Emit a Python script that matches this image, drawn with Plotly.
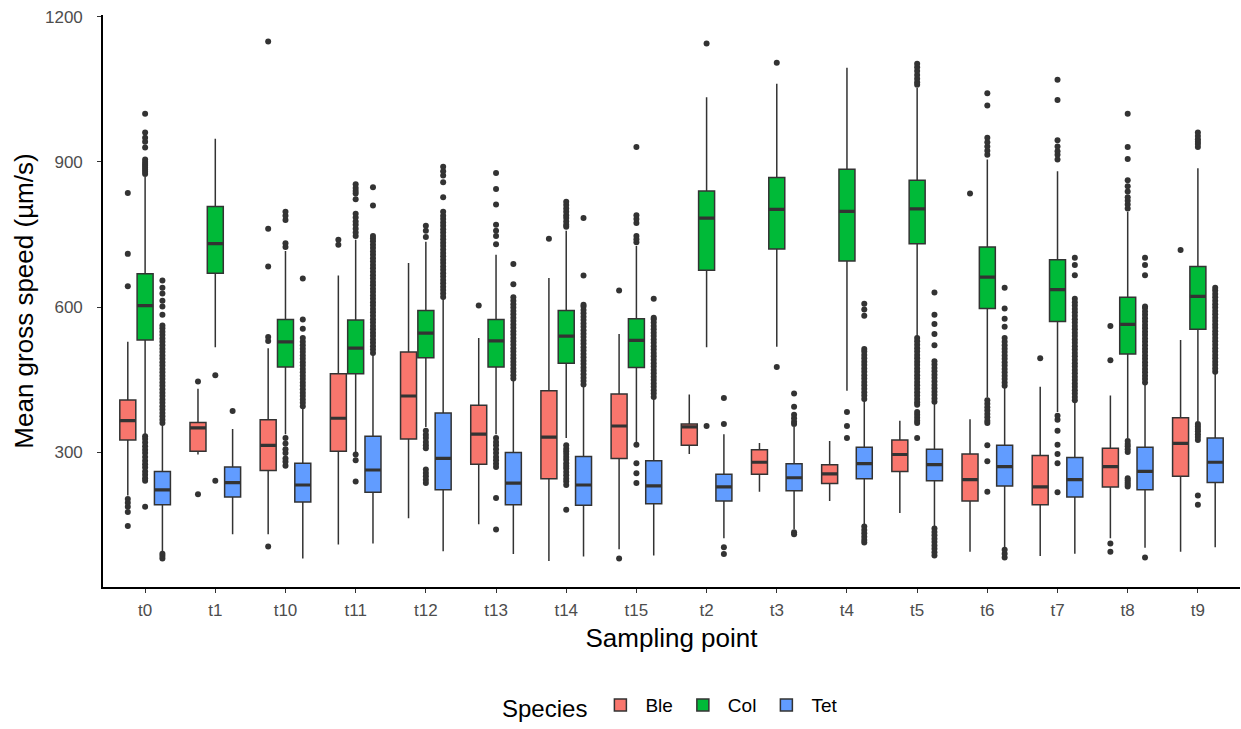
import plotly.graph_objects as go

CATEGORIES = ["t0", "t1", "t10", "t11", "t12", "t13", "t14", "t15",
              "t2", "t3", "t4", "t5", "t6", "t7", "t8", "t9"]
SPECIES = ["Ble", "Col", "Tet"]
COLORS = ["#F8766D", "#00BA38", "#619CFF"]

# ---- Ble ----
BLE_Q1 = [325, 302, 262, 302, 327, 275, 245, 287, 314, 254, 235, 260, 199, 191, 228, 250]
BLE_MED = [365, 350, 314, 370, 416, 337, 331, 354, 352, 279, 255, 295, 243, 228, 270, 318]
BLE_Q3 = [408, 361, 367, 462, 507, 397, 427, 420, 358, 305, 274, 325, 296, 293, 308, 371]
BLE_LO = [210, 295, 130, 109, 163, 151, 75, 99, 296, 218, 199, 174, 94, 85, 122, 94]
BLE_HI = [528, 431, 515, 665, 691, 536, 660, 544, 419, 319, 323, 365, 368, 435, 417, 532]
BLE_OUT = [
    [836, 710, 643, 203, 195, 187, 176, 147],
    [446, 213],
    [1149, 762, 684, 538, 530, 105],
    [739, 729],
    [],
    [603],
    [741],
    [634, 80],
    [],
    [],
    [],
    [],
    [835],
    [494],
    [561, 490, 111, 94],
    [718],
]

# ---- Col ----
COL_Q1 = [532, 670, 476, 462, 495, 476, 484, 475, 676, 720, 695, 731, 597, 570, 503, 554]
COL_MED = [603, 731, 528, 515, 546, 530, 540, 531, 784, 802, 798, 803, 662, 636, 564, 622]
COL_Q3 = [669, 808, 574, 573, 593, 574, 593, 576, 840, 868, 885, 862, 724, 698, 620, 684]
COL_LO = [337, 517, 337, 298, 352, 337, 329, 321, 517, 518, 427, 540, 413, 383, 329, 364]
COL_HI = [869, 948, 716, 739, 735, 708, 758, 726, 1034, 1062, 1095, 1053, 905, 881, 797, 887]
COL_OUT = [
    [875, 880, 884, 888, 892, 896, 900, 905, 930, 942, 950, 961, 1000,
     333, 327, 320, 312, 305, 298, 290, 282, 275, 268, 260, 253, 246, 241, 187],
    [459, 241],
    [797, 789, 780, 732, 724, 329, 318, 306, 298, 287, 280, 272],
    [854, 846, 840, 835, 823, 793, 785, 777, 770, 762, 754, 747, 295, 283, 239],
    [768, 758, 745, 344, 336, 329, 321, 314, 308, 264, 257, 250, 243, 236],
    [877, 844, 812, 770, 758, 747, 730, 329, 321, 314, 306, 298, 290, 283, 276, 269, 205, 140],
    [818, 811, 804, 797, 790, 784, 777, 770, 766,
     314, 307, 302, 296, 290, 284, 277, 271, 266, 259, 252, 245, 239, 232, 181],
    [931, 790, 782, 774, 747, 740, 734, 315, 277, 256, 236],
    [1145, 354],
    [1105, 476],
    [383, 354, 329],
    [1103, 1096, 1088, 1080, 1072, 1065, 1060,
     536, 529, 522, 515, 508, 501, 494, 487, 480, 473, 466, 459, 452, 445, 438, 431, 424,
     417, 410, 403, 398, 383, 377, 371, 365, 360, 329],
    [1042, 1017, 950, 941, 932, 923, 915, 407, 400, 393, 386, 379, 372, 365, 360, 314, 281, 218],
    [1070, 1028, 945, 932, 922, 915, 905, 375, 367, 344, 315, 296, 277, 217],
    [1000, 931, 906, 862, 850, 839, 827, 820, 812, 804, 323, 317, 312, 306, 300, 246, 242, 237, 233, 229],
    [961, 954, 947, 942, 937, 931, 358, 353, 348, 343, 337, 331, 325, 210, 191],
]

# ---- Tet ----
TET_Q1 = [191, 207, 197, 217, 222, 191, 190, 193, 199, 220, 245, 241, 230, 207, 222, 237]
TET_MED = [222, 237, 232, 263, 287, 236, 232, 230, 228, 247, 276, 274, 270, 243, 260, 279]
TET_Q3 = [260, 269, 277, 333, 381, 299, 291, 282, 254, 276, 310, 306, 314, 289, 310, 329]
TET_LO = [95, 130, 80, 111, 95, 89, 84, 86, 122, 141, 149, 145, 103, 90, 102, 103]
TET_HI = [356, 348, 391, 502, 617, 448, 436, 410, 337, 352, 406, 400, 434, 404, 440, 463]
TET_OUT = [
    [360, 367, 374, 381, 388, 395, 402, 409, 416, 423, 430, 437, 444, 451, 458, 465, 472,
     479, 486, 493, 500, 507, 514, 521, 528, 535, 542, 549, 556, 562, 584, 601, 613, 628,
     640, 655, 90, 85, 80],
    [385],
    [395, 402, 409, 416, 423, 430, 437, 444, 451, 458, 465, 472, 479, 486, 493, 500, 507,
     514, 521, 528, 536, 555, 574, 659],
    [505, 512, 519, 526, 533, 540, 547, 554, 561, 568, 575, 582, 589, 596, 603, 610, 617,
     624, 631, 638, 645, 652, 659, 666, 673, 680, 687, 694, 701, 708, 715, 722, 729, 736,
     742, 747, 810, 848],
    [621, 628, 635, 642, 649, 656, 663, 670, 677, 684, 691, 698, 705, 712, 719, 726, 733,
     740, 747, 754, 761, 768, 775, 782, 789, 797, 827, 858, 872, 881, 890],
    [452, 459, 466, 473, 480, 487, 494, 501, 508, 515, 522, 529, 536, 543, 550, 557, 564,
     571, 578, 585, 592, 599, 606, 613, 620, 647, 689],
    [440, 447, 454, 461, 468, 475, 482, 489, 496, 503, 510, 517, 524, 531, 538, 545, 552,
     559, 566, 573, 580, 587, 594, 601, 605, 665, 784],
    [414, 421, 428, 435, 442, 449, 456, 463, 470, 477, 484, 491, 498, 505, 512, 519, 526,
     533, 540, 547, 554, 561, 568, 575, 578, 617],
    [412, 358, 103, 89],
    [421, 394, 377, 370, 363, 358, 134, 130],
    [410, 417, 424, 431, 438, 445, 452, 459, 466, 473, 480, 487, 494, 501, 508, 513, 582,
     595, 607, 146, 139, 132, 125, 118, 113],
    [404, 411, 418, 425, 432, 439, 446, 453, 460, 467, 474, 481, 488, 521, 544, 565, 584,
     630, 142, 135, 128, 121, 114, 107, 100, 93, 86],
    [437, 444, 451, 458, 465, 472, 479, 486, 493, 500, 507, 514, 521, 528, 536, 559, 576,
     597, 640, 98, 90, 82],
    [407, 414, 421, 428, 435, 442, 449, 456, 463, 470, 477, 484, 491, 498, 505, 512, 519,
     526, 533, 540, 547, 554, 561, 568, 575, 582, 589, 596, 603, 610, 617, 666, 687, 702],
    [444, 451, 458, 465, 472, 479, 486, 493, 500, 507, 514, 521, 528, 535, 542, 549, 556,
     563, 570, 577, 584, 591, 598, 601, 666, 687, 702, 82],
    [466, 473, 480, 487, 494, 501, 508, 515, 522, 529, 536, 543, 550, 557, 564, 571, 578,
     585, 592, 599, 606, 613, 620, 627, 634, 640],
]

STATS = [
    (BLE_Q1, BLE_MED, BLE_Q3, BLE_LO, BLE_HI, BLE_OUT),
    (COL_Q1, COL_MED, COL_Q3, COL_LO, COL_HI, COL_OUT),
    (TET_Q1, TET_MED, TET_Q3, TET_LO, TET_HI, TET_OUT),
]

EDGE = "#333333"
fig = go.Figure()

for name, color, (q1, med, q3, lo, hi, out) in zip(SPECIES, COLORS, STATS):
    fig.add_trace(go.Box(
        name=name, x=CATEGORIES, y=out,
        q1=q1, median=med, q3=q3, lowerfence=lo, upperfence=hi,
        boxpoints="all", jitter=0, pointpos=0,
        marker=dict(size=6, color=EDGE, line=dict(width=0)),
        fillcolor=color, line=dict(color=EDGE, width=1.5),
        whiskerwidth=0, offsetgroup=name, alignmentgroup="g",
    ))
for name, (q1, med, q3, lo, hi, out) in zip(SPECIES, STATS):
    # thicker median bar, like ggplot's fatten
    fig.add_trace(go.Box(
        name=name, x=CATEGORIES,
        q1=med, median=med, q3=med, lowerfence=med, upperfence=med,
        boxpoints=False, fillcolor="rgba(0,0,0,0)",
        line=dict(color=EDGE, width=3.2), whiskerwidth=0,
        offsetgroup=name, alignmentgroup="g",
        showlegend=False, hoverinfo="skip",
    ))

axis_common = dict(
    showline=True, linecolor="black", linewidth=1.6, mirror=False,
    showgrid=False, zeroline=False, automargin=False,
    ticks="outside", ticklen=4, tickwidth=1.2, tickcolor=EDGE,
    tickfont=dict(size=17, color="#4D4D4D"),
)

fig.update_layout(
    width=1241, height=729,
    margin=dict(l=103, r=1, t=15, b=134),
    paper_bgcolor="white", plot_bgcolor="white",
    font=dict(family="Liberation Sans, Arial, sans-serif", color="black"),
    boxmode="group", boxgap=0.26, boxgroupgap=0.076,
    xaxis=dict(
        type="category", categoryorder="array", categoryarray=CATEGORIES,
        range=[-0.6, 15.6],
        title=dict(text="Sampling point", font=dict(size=26, color="black"), standoff=10),
        ticklabelstandoff=3,
        **axis_common,
    ),
    yaxis=dict(
        range=[21, 1204], tickvals=[300, 600, 900, 1200],
        title=dict(text="Mean gross speed (µm/s)", font=dict(size=26, color="black"), standoff=4),
        ticklabelstandoff=11,
        **axis_common,
    ),
    legend=dict(
        orientation="h", x=0.5, xanchor="center", y=-0.21, yanchor="middle",
        title=dict(text="Species", font=dict(size=24, color="black")),
        font=dict(size=19, color="black"),
        itemwidth=40,
    ),
    showlegend=True,
)

fig.write_html("out.html")
